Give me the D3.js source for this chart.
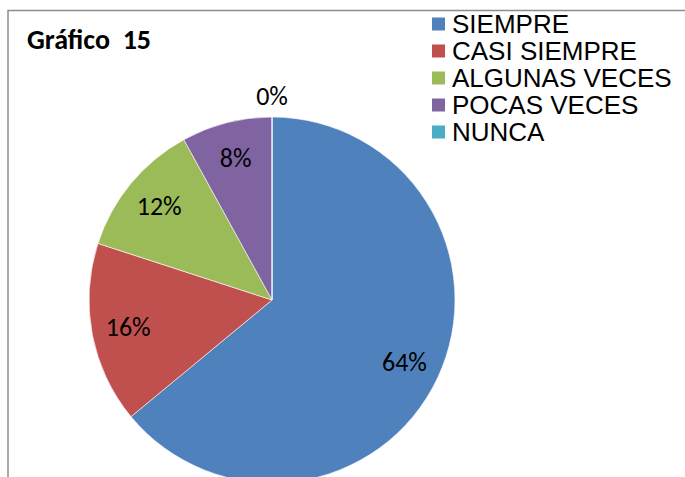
<!DOCTYPE html>
<html>
<head>
<meta charset="utf-8">
<script src="https://cdn.jsdelivr.net/npm/d3@7"></script>
<style>
  body { margin: 0; background: #fff; }
  svg { display: block; }
</style>
</head>
<body>
<div id="chart"></div>
<script>
const categories = ["SIEMPRE", "CASI SIEMPRE", "ALGUNAS VECES", "POCAS VECES", "NUNCA"];
const values = [64, 16, 12, 8, 0];
const labels = ["64%", "16%", "12%", "8%", "0%"];
const colors = ["#4F81BD", "#C0504D", "#9BBB59", "#8064A2", "#4BACC6"];
const title = "Gráfico\u00a0 15";

const width = 685;
const height = 477;
const cx = 272, cy = 300, radius = 183;

const svg = d3.select("#chart")
    .append("svg")
    .attr("width", width)
    .attr("height", height);

// frame (only top and left edges visible)
svg.append("path")
    .attr("d", `M8,${height} L8,10.5 L${width},10.5`)
    .attr("fill", "none")
    .attr("stroke", "#8c8c8c")
    .attr("stroke-width", 1.5);

const data = categories.map((c, i) => ({ name: c, value: values[i], label: labels[i], color: colors[i] }));

const pie = d3.pie()
    .value(d => d.value)
    .sort(null);

const arc = d3.arc()
    .innerRadius(0)
    .outerRadius(radius);

const labelArc = d3.arc()
    .innerRadius(radius * 0.8)
    .outerRadius(radius * 0.8);

const outerLabelArc = d3.arc()
    .innerRadius(radius * 1.11)
    .outerRadius(radius * 1.11);

const arcs = pie(data);

const g = svg.append("g")
    .attr("transform", `translate(${cx},${cy})`);

g.selectAll(".slice")
    .data(arcs)
    .join("path")
    .attr("class", "slice")
    .attr("d", arc)
    .attr("fill", d => d.data.color)
    .attr("stroke", "#fff")
    .attr("stroke-width", 0.6);

g.selectAll(".pct")
    .data(arcs)
    .join("text")
    .attr("class", "pct")
    .attr("transform", d => {
        const p = d.data.value === 0 ? outerLabelArc.centroid(d) : labelArc.centroid(d);
        return `translate(${p[0]},${p[1]})`;
    })
    .attr("text-anchor", "middle")
    .attr("dy", "0.33em")
    .style("font-family", "Carlito, Calibri, Lato, sans-serif")
    .style("font-size", "26px")
    .style("fill", "#000")
    .text(d => d.data.label);

svg.append("text")
    .attr("x", 27)
    .attr("y", 49)
    .style("font-family", "Carlito, Calibri, Lato, sans-serif")
    .style("font-weight", "bold")
    .style("font-size", "28px")
    .style("fill", "#000")
    .text(title);

const legend = svg.append("g")
    .attr("transform", "translate(432,0)");

const rowY = d3.scalePoint()
    .domain(categories)
    .range([24, 132]);

const rows = legend.selectAll(".row")
    .data(data)
    .join("g")
    .attr("class", "row")
    .attr("transform", d => `translate(0,${rowY(d.name)})`);

rows.append("rect")
    .attr("x", 0)
    .attr("y", -6.5)
    .attr("width", 13)
    .attr("height", 13)
    .attr("fill", d => d.color);

rows.append("text")
    .attr("x", 20)
    .attr("y", 9)
    .style("font-family", "'Liberation Sans', Arial, sans-serif")
    .style("font-size", "26px")
    .style("fill", "#000")
    .text(d => d.name);
</script>
</body>
</html>
